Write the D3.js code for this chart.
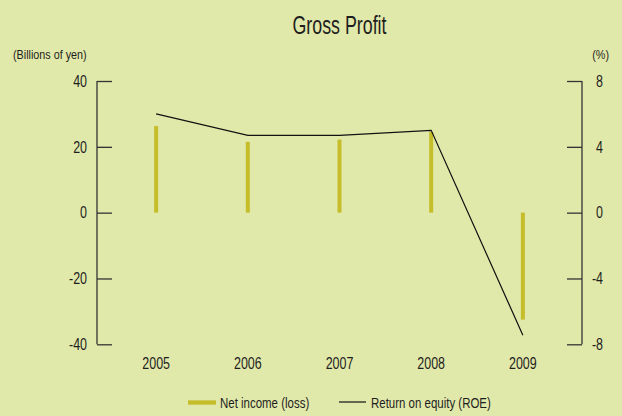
<!DOCTYPE html>
<html><head><meta charset="utf-8">
<script src="https://cdn.jsdelivr.net/npm/d3@7"></script>
<style>
html,body{margin:0;padding:0;background:#e1e9aa;}
svg{display:block;}
text{font-family:"Liberation Sans",Arial,sans-serif;fill:#1e1e1e;}
</style></head>
<body>
<svg id="c" width="622" height="416"></svg>
<script>
const years = ["2005","2006","2007","2008","2009"];
const netIncome = [26.3, 21.5, 22.2, 24.5, -32.5];
const roe = [6.0, 4.7, 4.7, 5.0, -7.45];
const leftTicks = [-40, -20, 0, 20, 40];
const rightTicks = [-8, -4, 0, 4, 8];

const svg = d3.select("#c");
svg.append("rect").attr("width",622).attr("height",416).attr("fill","#e1e9aa");

const xL = 97, xR = 582, yTop = 81, yBot = 344.3;
const x = d3.scalePoint().domain(years).range([xL, xR]).padding(0.645);
const yL = d3.scaleLinear().domain([-40, 40]).range([yBot, yTop]);
const yR = d3.scaleLinear().domain([-8, 8]).range([yBot, yTop]);

const K = 0.78;
function label(g, px, py, txt, anchor, size, k) {
  return g.append("text")
    .attr("transform", `translate(${px},${py}) scale(${k||K},1)`)
    .attr("text-anchor", anchor)
    .attr("font-size", size)
    .text(txt);
}

// Title
svg.append("text").attr("x", 339.5).attr("y", 33.7).attr("text-anchor","middle")
  .attr("font-size", 26).attr("textLength", 94).attr("lengthAdjust","spacingAndGlyphs")
  .text("Gross Profit");

// Axis unit labels
label(svg, 13, 58.5, "(Billions of yen)", "start", 13, 0.83);
label(svg, 609, 58.5, "(%)", "end", 13, 0.83);

// Left axis
const axL = d3.axisRight(yL).tickValues(leftTicks).tickSize(15).tickFormat("");
const gL = svg.append("g").attr("transform", `translate(${xL},0)`).call(axL);
const axR = d3.axisLeft(yR).tickValues(rightTicks).tickSize(15).tickFormat("");
const gR = svg.append("g").attr("transform", `translate(${xR},0)`).call(axR);
[gL, gR].forEach(g => {
  g.select(".domain").remove();
  g.selectAll(".tick line").attr("stroke","#333").attr("stroke-width",1.3);
});
svg.append("line").attr("x1",xL).attr("x2",xL).attr("y1",yL(40)).attr("y2",yL(-40))
  .attr("stroke","#333").attr("stroke-width",1.3);
svg.append("line").attr("x1",xR).attr("x2",xR).attr("y1",yR(8)).attr("y2",yR(-8))
  .attr("stroke","#333").attr("stroke-width",1.3);

leftTicks.forEach(t => label(svg, 87, yL(t) + 5.8, String(t), "end", 16));
rightTicks.forEach(t => label(svg, 603, yR(t) + 5.8, String(t), "end", 16));

// Year labels
years.forEach(yv => label(svg, x(yv), 369, yv, "middle", 16));

// Bars
svg.append("g").selectAll("rect").data(years).join("rect")
  .attr("x", d => x(d) - 2)
  .attr("width", 4)
  .attr("y", (d,i) => Math.min(yL(netIncome[i]), yL(0)))
  .attr("height", (d,i) => Math.abs(yL(netIncome[i]) - yL(0)))
  .attr("fill", "#c5bd2a");

// ROE line
const line = d3.line().x((d,i) => x(years[i])).y(d => yR(d));
svg.append("path").datum(roe).attr("d", line)
  .attr("fill","none").attr("stroke","#111").attr("stroke-width",1.2);

// Legend
svg.append("line").attr("x1",188).attr("x2",216).attr("y1",402.5).attr("y2",402.5)
  .attr("stroke","#c5bd2a").attr("stroke-width",4.3);
label(svg, 220, 407.8, "Net income (loss)", "start", 15, 0.765);
svg.append("line").attr("x1",339).attr("x2",366).attr("y1",402).attr("y2",402)
  .attr("stroke","#111").attr("stroke-width",1.2);
label(svg, 371, 407.8, "Return on equity (ROE)", "start", 15, 0.765);
</script>
</body></html>
